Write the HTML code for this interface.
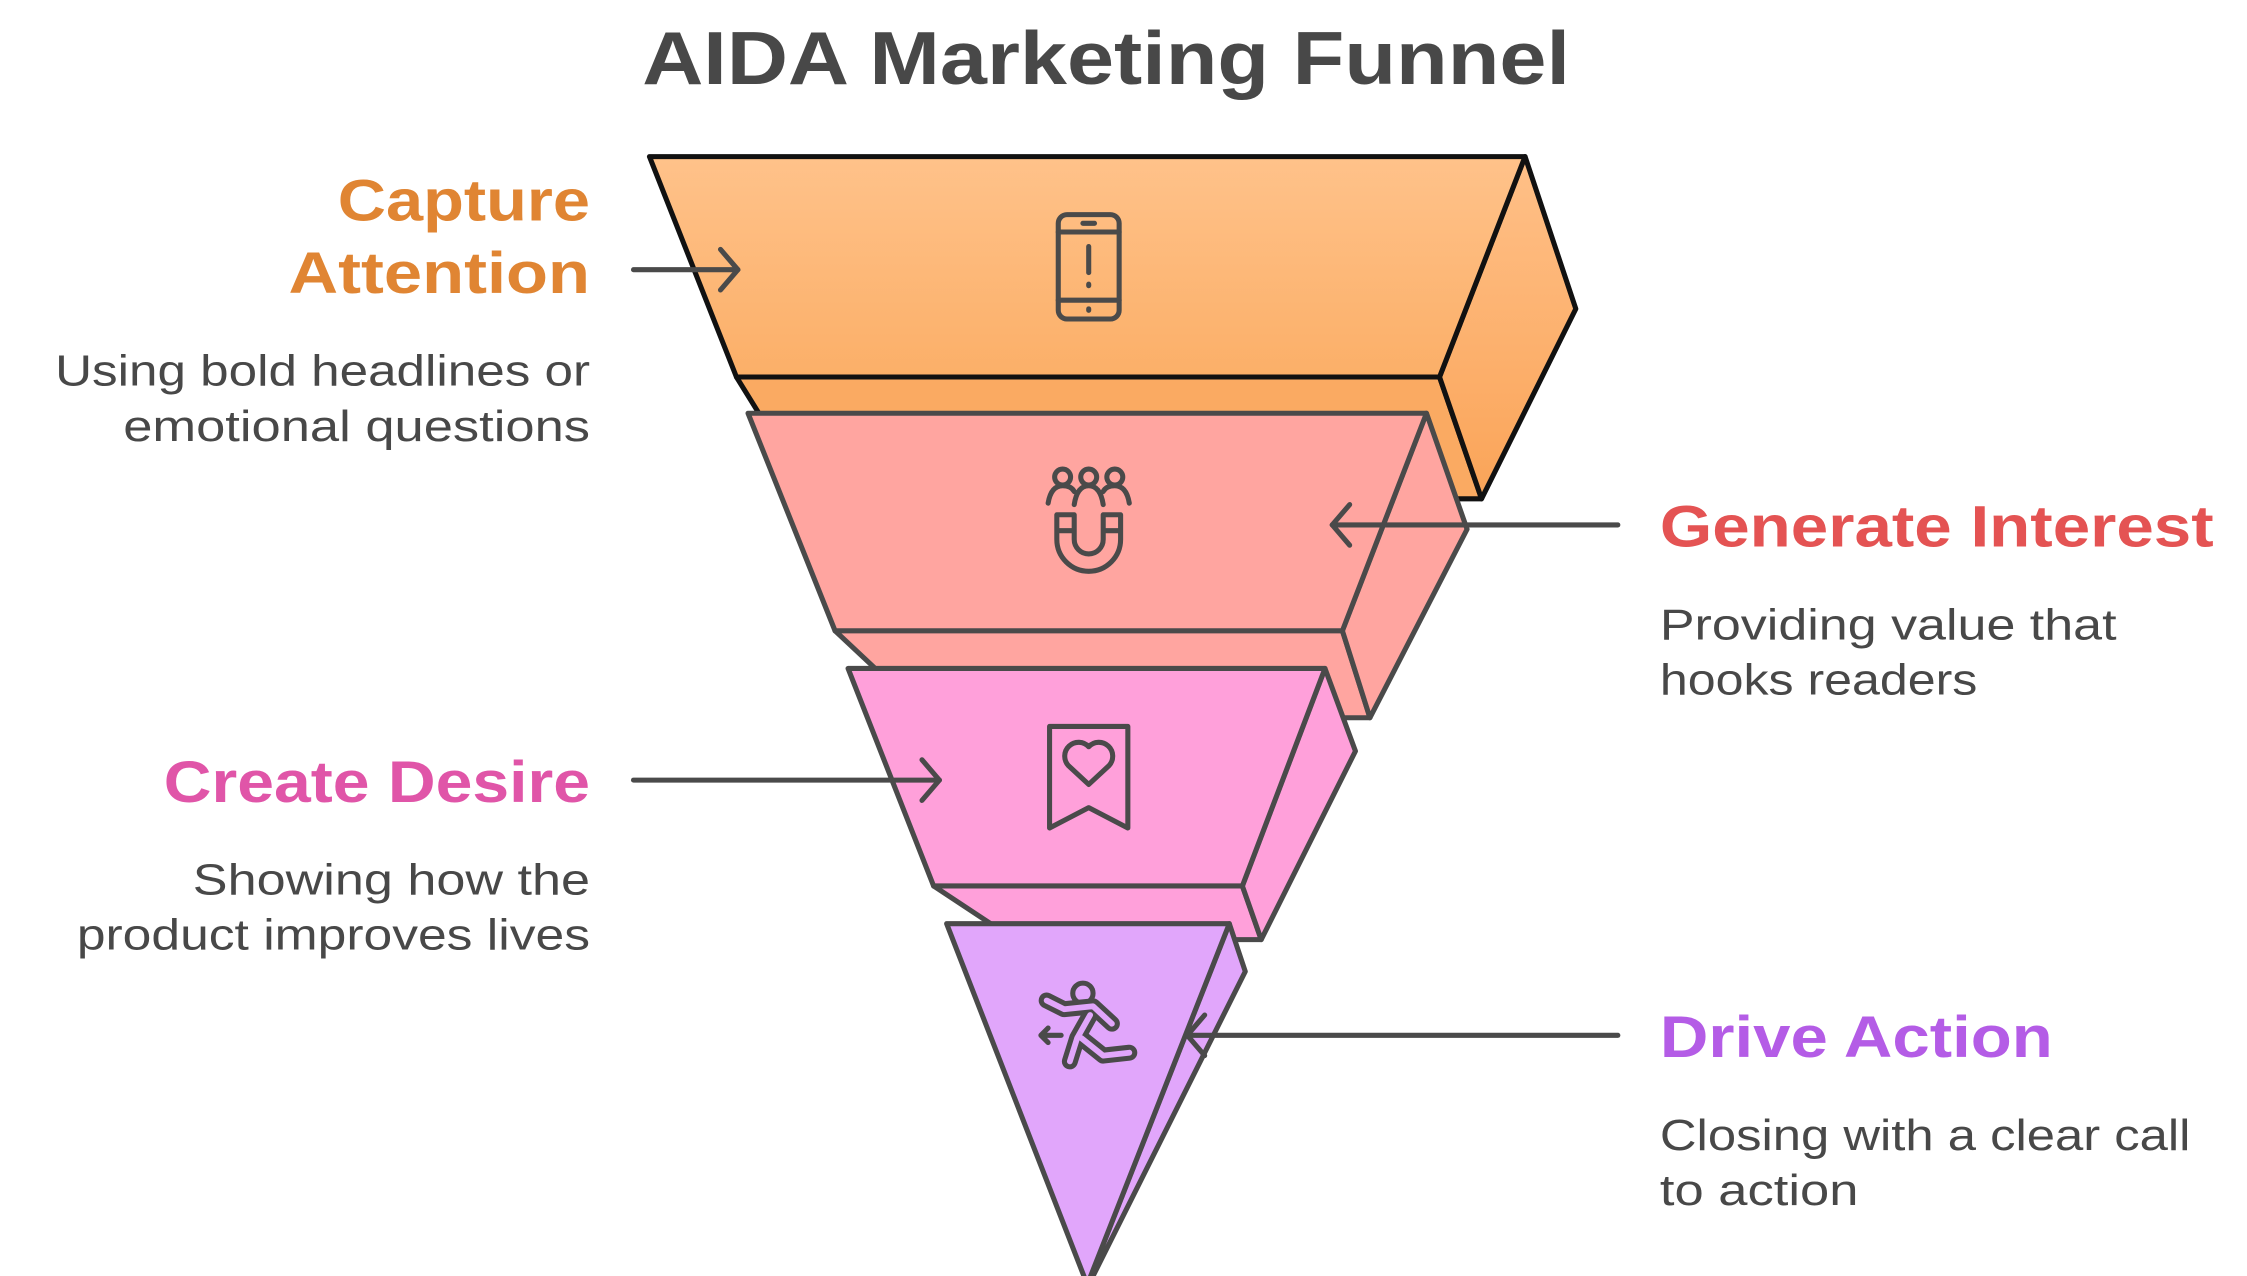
<!DOCTYPE html>
<html><head><meta charset="utf-8"><style>
html,body{margin:0;padding:0;background:#fff;}
svg{display:block;}
text{font-family:"Liberation Sans",sans-serif;}
</style></head><body>
<svg width="2247" height="1276" viewBox="0 0 1550 880" preserveAspectRatio="none" xmlns="http://www.w3.org/2000/svg">
<defs>
<linearGradient id="g1" x1="0" y1="0" x2="0" y2="1"><stop offset="0" stop-color="#FFC28A"/><stop offset="1" stop-color="#FBAF68"/></linearGradient>
<linearGradient id="g2" x1="0" y1="0" x2="0" y2="1"><stop offset="0" stop-color="#FFC088"/><stop offset="1" stop-color="#FAA458"/></linearGradient>
</defs>
<text x="763" y="58" text-anchor="middle" font-size="52" font-weight="bold" fill="#484848" textLength="640" lengthAdjust="spacingAndGlyphs">AIDA Marketing Funnel</text>

<g stroke-linejoin="round" stroke-width="3.5">
<g stroke="#111">
<polygon points="508,260 993,260 1022,344 560,344" fill="#FAAA62"/>
<polygon points="1052,108 1087,213 1022,344 993,260" fill="url(#g2)"/>
<polygon points="448,108 1052,108 993,260 508,260" fill="url(#g1)"/>
</g>
<g stroke="#4a4a4a" fill="#FFA5A0">
<polygon points="576,435 926,435 945,495 640,495"/>
<polygon points="984,285 1012,365 945,495 926,435"/>
<polygon points="516,285 984,285 926,435 576,435"/>
</g>
<g stroke="#4a4a4a" fill="#FFA0DA">
<polygon points="644,611 857,611 870,648 700,648"/>
<polygon points="914,461 935,518 870,648 857,611"/>
<polygon points="585,461 914,461 857,611 644,611"/>
</g>
<g stroke="#4a4a4a" fill="#E1A6FB">
<polygon points="848,637 859,670 752,884 750,886"/>
<polygon points="653,637 848,637 750,886"/>
</g>
</g>

<g fill="none" stroke="#4a4a4a" stroke-width="3.5" stroke-linecap="round" stroke-linejoin="round">
<rect x="730" y="148" width="42" height="72" rx="6"/>
<line x1="730" y1="160" x2="772" y2="160"/><line x1="730" y1="207" x2="772" y2="207"/>
<line x1="747" y1="154" x2="755" y2="154"/>
<line x1="751" y1="170" x2="751" y2="188"/><line x1="751" y1="196" x2="751" y2="197"/>
<line x1="751" y1="213" x2="751" y2="214"/>
<circle cx="733" cy="329" r="5.5"/><circle cx="751" cy="329" r="5.5"/><circle cx="769" cy="329" r="5.5"/>
<path d="M723 347 q2-12 10-12 q6 0 8 4 M741 348 q2-13 10-13 q8 0 10 13 M761 339 q2-4 8-4 q8 0 10 12"/>
<path d="M729 355 v17 a22 22 0 0 0 44 0 v-17 h-12 v17 a10 10 0 0 1 -20 0 v-17 z M729 366 h12 M761 366 h12"/>
<path d="M724 501 h54 v70 l-27-14 l-27 14 z"/>
<path d="M751 541 l-14-13 a9 9 0 0 1 14-13 a9 9 0 0 1 14 13 z"/>
<circle cx="747" cy="685" r="7"/>
<g stroke-width="11"><path d="M722 690 l12 6 l20-2 l13 12 M752 700 l-9 16 l-5 16 M746 716 l15 12 l18-2"/></g>
<g stroke="#E1A6FB" stroke-width="4"><path d="M722 690 l12 6 l20-2 l13 12 M752 700 l-9 16 l-5 16 M746 716 l15 12 l18-2"/></g>
<path d="M732 714 h-14 M723 709 l-5 5 l5 5"/>
</g>

<g fill="none" stroke="#4a4a4a" stroke-width="3.5" stroke-linecap="round" stroke-linejoin="round">
<line x1="437" y1="186" x2="509" y2="186"/><polyline points="497,172 509,186 497,200"/>
<line x1="1116" y1="362" x2="919" y2="362"/><polyline points="931,348 919,362 931,376"/>
<line x1="437" y1="538" x2="648" y2="538"/><polyline points="636,524 648,538 636,552"/>
<line x1="1116" y1="714" x2="819" y2="714"/><polyline points="831,700 819,714 831,728"/>
</g>

<g font-weight="bold" font-size="40">
<text x="407" y="152" text-anchor="end" fill="#E08533" textLength="174" lengthAdjust="spacingAndGlyphs">Capture</text>
<text x="407" y="202" text-anchor="end" fill="#E08533" textLength="208" lengthAdjust="spacingAndGlyphs">Attention</text>
<text x="407" y="553" text-anchor="end" fill="#E055A8" textLength="294" lengthAdjust="spacingAndGlyphs">Create Desire</text>
<text x="1145" y="377" fill="#E45353" textLength="382" lengthAdjust="spacingAndGlyphs">Generate Interest</text>
<text x="1145" y="729" fill="#B45CE6" textLength="271" lengthAdjust="spacingAndGlyphs">Drive Action</text>
</g>
<g font-size="30" fill="#484848">
<text x="407" y="266" text-anchor="end" textLength="369" lengthAdjust="spacingAndGlyphs">Using bold headlines or</text>
<text x="407" y="304" text-anchor="end" textLength="322" lengthAdjust="spacingAndGlyphs">emotional questions</text>
<text x="407" y="617" text-anchor="end" textLength="274" lengthAdjust="spacingAndGlyphs">Showing how the</text>
<text x="407" y="655" text-anchor="end" textLength="354" lengthAdjust="spacingAndGlyphs">product improves lives</text>
<text x="1145" y="441" textLength="315" lengthAdjust="spacingAndGlyphs">Providing value that</text>
<text x="1145" y="479" textLength="219" lengthAdjust="spacingAndGlyphs">hooks readers</text>
<text x="1145" y="793" textLength="366" lengthAdjust="spacingAndGlyphs">Closing with a clear call</text>
<text x="1145" y="831" textLength="137" lengthAdjust="spacingAndGlyphs">to action</text>
</g>
</svg>
</body></html>
